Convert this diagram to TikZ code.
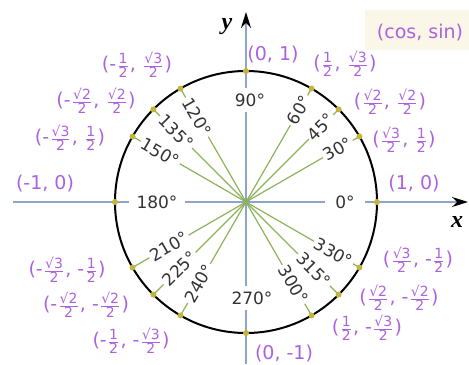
\documentclass[tikz,border=0pt]{standalone}
\usepackage{amsmath}
\usepackage{fontspec}
\setmainfont{DejaVu Sans}
\newfontfamily\ejefont{Liberation Serif}
\usetikzlibrary{arrows.meta}
\definecolor{morado}{RGB}{172,98,222}
\definecolor{eje}{RGB}{140,165,200}
\definecolor{rayo}{RGB}{140,178,90}
\definecolor{amarillo}{RGB}{195,180,60}
\definecolor{caja}{RGB}{250,246,232}
\newcommand{\fr}[2]{\ensuremath{\tfrac{\mbox{\fontsize{7}{8}\selectfont #1}}{\mbox{\fontsize{7}{8}\selectfont #2}}}}
\begin{document}
\begin{tikzpicture}[x=0.5pt, y=0.5pt,
		coord/.style={text=morado, font=\fontsize{9.5}{10}\selectfont, inner sep=0pt},
		grado/.style={fill=white, text=black!80, font=\fontsize{8.5}{10}\selectfont, inner sep=1pt},
		nombre/.style={font=\ejefont\bfseries\itshape\fontsize{12}{12}\selectfont},
		marca/.style={fill=amarillo},
		flecha/.style={eje, line width=0.8pt, -{Stealth[black, length=8pt, width=5pt]}}]
		\useasboundingbox (-246,-162) rectangle (223,202);
		% Recuadro (cos, sin)
		\fill[caja] (119,152) rectangle (223,192);
		\node[coord] (leyenda) at (174,169) {(cos, sin)};
		% Ejes
		\coordinate (O) at (0,0);
		\coordinate (xi) at (-233,0);
		\coordinate (xd) at (222,0);
		\coordinate (yi) at (0,-162);
		\coordinate (ys) at (0,190);
		\draw[flecha] (xi) -- (xd);
		\draw[flecha] (yi) -- (ys);
		\node[nombre] (ex) at (211,-20) {x};
		\node[nombre] (ey) at (-19,175) {y};
		% Puntos de la circunferencia
		\foreach \a in {0,30,45,60,90,120,135,150,180,210,225,240,270,300,315,330}
			\coordinate (p\a) at (\a:131);
		% Radios
		\foreach \a in {30,45,60,120,135,150,210,225,240,300,315,330}
			\draw[rayo, line width=0.6pt] (O) -- (p\a);
		% Circunferencia
		\draw[line width=1pt] (O) circle (131);
		\foreach \a in {0,30,45,60,90,120,135,150,180,210,225,240,270,300,315,330}
			\fill[marca] (p\a) circle (3);
		% Etiquetas de los ángulos
		\foreach \a/\r in {30/106,45/106,60/106,300/95,315/96,330/101}
			\node[grado, rotate=\a] (g\a) at (\a:\r) {\a°};
		\foreach \a/\r in {120/98,135/99,150/99,210/89,225/94,240/94}
			\node[grado, rotate=\a-180] (g\a) at (\a:\r) {\a°};
		\node[grado, inner xsep=5pt] (g0) at (99,0) {0°};
		\node[grado, inner xsep=4pt] (g180) at (-89,0) {180°};
		\node[grado, inner ysep=3pt] (g90) at (4,102) {90°};
		\node[grado, inner ysep=3pt] (g270) at (6,-96) {270°};
		% Coordenadas (cos, sin)
		\node[coord] (c90) at (27,147) {(0, 1)};
		\node[coord] (c60) at (99,138) {(\fr{1}{2}, \fr{√3}{2})};
		\node[coord] (c45) at (144,100) {(\fr{√2}{2}, \fr{√2}{2})};
		\node[coord] (c30) at (158,62) {(\fr{√3}{2}, \fr{1}{2})};
		\node[coord] (c0) at (168,18) {(1, 0)};
		\node[coord] (c330) at (172,-58) {(\fr{√3}{2}, -\fr{1}{2})};
		\node[coord] (c315) at (153,-96) {(\fr{√2}{2}, -\fr{√2}{2})};
		\node[coord] (c300) at (121,-126) {(\fr{1}{2}, -\fr{√3}{2})};
		\node[coord] (c270) at (38,-152) {(0, -1)};
		\node[coord] (c120) at (-109,137) {(-\fr{1}{2}, \fr{√3}{2})};
		\node[coord] (c135) at (-150,101) {(-\fr{√2}{2}, \fr{√2}{2})};
		\node[coord] (c150) at (-176,64) {(-\fr{√3}{2}, \fr{1}{2})};
		\node[coord] (c180) at (-201,18) {(-1, 0)};
		\node[coord] (c210) at (-179,-68) {(-\fr{√3}{2}, -\fr{1}{2})};
		\node[coord] (c225) at (-160,-103) {(-\fr{√2}{2}, -\fr{√2}{2})};
		\node[coord] (c240) at (-115,-139) {(-\fr{1}{2}, -\fr{√3}{2})};
	\end{tikzpicture}
\end{document}
